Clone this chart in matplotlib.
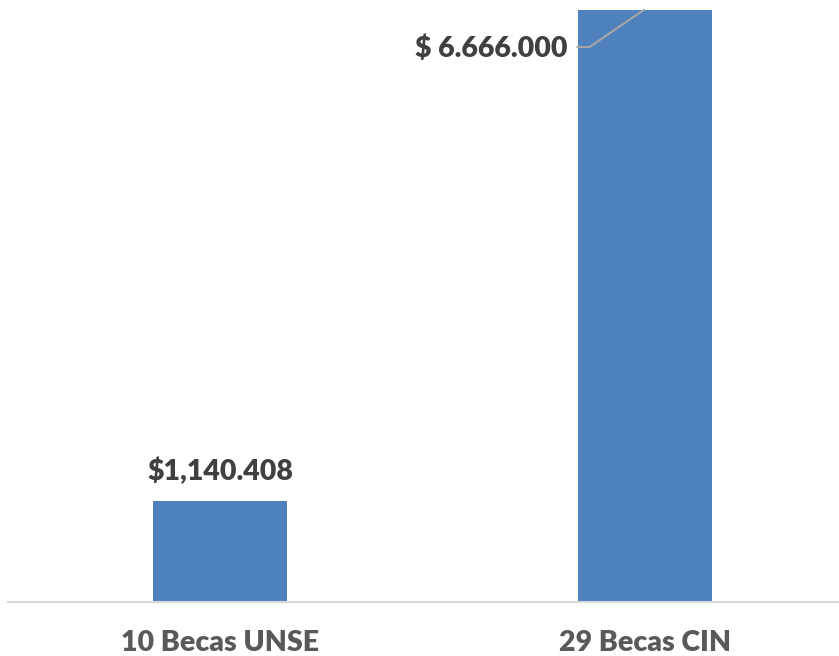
import matplotlib
matplotlib.use('Agg')
import matplotlib.pyplot as plt

# 数据
categories = ['10 Becas UNSE', '29 Becas CIN']
values = [1140408, 6666000]
value_labels = ['$1,140.408', '$ 6.666.000']

plt.rcParams['font.family'] = ['Lato', 'DejaVu Sans']

fig = plt.figure(figsize=(8.39, 6.56), dpi=100)
# 轴区域：左 8px，底部基线 y=602
ax = fig.add_axes([8 / 839, (656 - 602) / 656, 1 - 8 / 839, 602 / 656])

bar_color = '#4F81BD'
x = range(len(categories))
ax.bar(x, values, width=0.316, color=bar_color, zorder=2)

ax.set_xlim(-0.5, 1.458)
ax.set_ylim(0, 6778600)

for s in ['top', 'right', 'left']:
    ax.spines[s].set_visible(False)
ax.spines['bottom'].set_color('#D9D9D9')
ax.spines['bottom'].set_linewidth(1.5)
ax.set_yticks([])
ax.set_xticks(list(x))
ax.set_xticklabels(categories, fontsize=20.5, fontweight='heavy', color='#595959')
ax.tick_params(axis='x', length=0, pad=20)

# 数据标签
ax.annotate(value_labels[0], xy=(0, values[0]), xytext=(0, 11),
            textcoords='offset points', ha='center', va='bottom',
            fontsize=20.5, fontweight='heavy', color='#404040')

# 第二个标签带引导线
ax.annotate(value_labels[1], xy=(1, values[1]), xytext=(-77, -39),
            textcoords='offset pixels', ha='right', va='center',
            fontsize=20.5, fontweight='heavy', color='#404040', annotation_clip=False)
# 引导线（像素坐标转换）
trans = ax.transData
x0, y0 = trans.transform((1, values[1]))
pts = [(x0 - 67, y0 - 37), (x0 - 55, y0 - 37), (x0 - 1, y0)]
inv = trans.inverted()
data_pts = [inv.transform(p) for p in pts]
ax.plot([p[0] for p in data_pts], [p[1] for p in data_pts], color='#A6A6A6',
        linewidth=1.5, zorder=3, clip_on=False)

fig.savefig('out.png', dpi=100)
